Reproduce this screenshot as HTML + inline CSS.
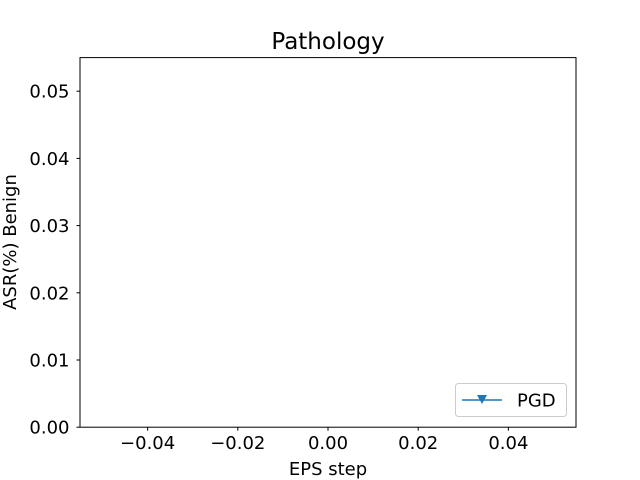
<!DOCTYPE html>
<html><head><meta charset="utf-8"><style>body{margin:0;background:#fff}svg{display:block;font-family:"DejaVu Sans","Liberation Sans",sans-serif}</style></head>
<body>
<svg id="chart" width="640" height="480">
<rect width="640" height="480" fill="#fff"/>
<text x="328" y="49" font-size="23" text-anchor="middle">Pathology</text>
<g id="plot"></g>
<rect x="80" y="57.6" width="496" height="369.6" fill="none" stroke="#000" stroke-width="1"/>
<g id="xt"></g><g id="yt"></g>
<text x="328" y="475" font-size="18" text-anchor="middle">EPS step</text>
<text transform="translate(16,242) rotate(-90)" font-size="18" text-anchor="middle">ASR(%) Benign</text>
<g>
<rect x="455.5" y="383.5" width="111" height="33" rx="3" fill="#fff" stroke="#ccc"/>
<line x1="462" y1="400" x2="502" y2="400" stroke="#1f77b4" stroke-width="1.5"/>
<path d="M477,395 L487,395 L482,404 Z" fill="#1f77b4"/>
<text x="517" y="406.5" font-size="18">PGD</text>
</g>
</svg>
<script>
const xTicks=[-0.04,-0.02,0.00,0.02,0.04];
const yTicks=[0.00,0.01,0.02,0.03,0.04,0.05];
const epsSteps=[];
const asrPGD=[];
const X=v=>80+(v+0.055)/0.11*496;
const Y=v=>427.2-v/0.055*369.6;
const NS="http://www.w3.org/2000/svg";
const xt=document.getElementById('xt'),yt=document.getElementById('yt'),plot=document.getElementById('plot');
function mk(t,a,p){const e=document.createElementNS(NS,t);for(const k in a)e.setAttribute(k,a[k]);p.appendChild(e);return e;}
xTicks.forEach(v=>{
 const l=mk('line',{x1:X(v),x2:X(v),y1:427.2,y2:430.7,stroke:'#000'},xt);
 
 
 const t=mk('text',{x:X(v),y:449,'font-size':18,'text-anchor':'middle'},xt);
 t.textContent=v.toFixed(2).replace('-','\u2212');
 
 
});
yTicks.forEach(v=>{
 const l=mk('line',{x1:76.5,x2:80,y1:Y(v),y2:Y(v),stroke:'#000'},yt);
 
 
 const t=mk('text',{x:69.5,y:Y(v)+6.5,'font-size':18,'text-anchor':'end'},yt);
 t.textContent=v.toFixed(2);
 
 
});
if(epsSteps.length){
 const pts=epsSteps.map((e,i)=>X(e)+','+Y(asrPGD[i])).join(' ');
 const pl=mk('polyline',{points:pts,fill:'none',stroke:'#1f77b4','stroke-width':1.5},plot);
 
 
 epsSteps.forEach((e,i)=>{const x=X(e),y=Y(asrPGD[i]);
  const m=mk('path',{d:`M${x-5},${y-4.5} L${x+5},${y-4.5} L${x},${y+4.5} Z`,fill:'#1f77b4'},plot);
  
  });
}
</script>
</body></html>
